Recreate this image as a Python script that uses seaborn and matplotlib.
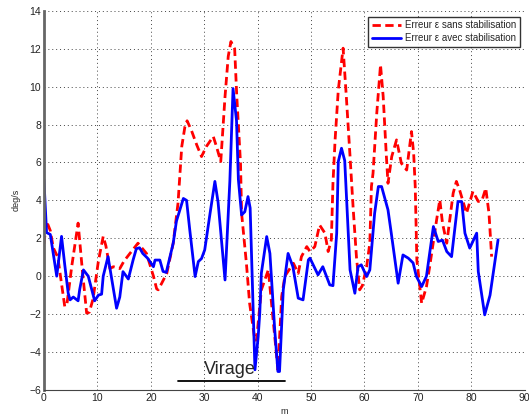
import matplotlib
matplotlib.use("Agg")
import matplotlib.pyplot as plt
import seaborn as sns

# distance (m) / angular error (deg/s)
blue_m = [0, 0.5, 1.2, 2.4, 3.3, 3.9, 4.55, 4.9, 5.5, 6.4, 6.7, 7.4, 8.3, 9.5,
          10.2, 10.8, 11.1, 12.0, 13.6, 14.2, 14.8, 15.8, 16.7, 17.3, 17.9, 18.5,
          19.4, 20.5, 20.8, 21.7, 22.3, 22.9, 24.2, 24.8, 26.1, 26.7, 27.3, 28.3,
          28.9, 29.5, 30.1, 31.1, 32.0, 32.6, 33.9, 34.8, 35.4, 36.05, 36.4, 37.0,
          37.6, 38.2, 38.6, 39.5, 40.1, 40.4, 40.7, 41.7, 42.3, 43.2, 43.8, 44.1,
          44.8, 45.7, 46.6, 47.6, 48.5, 49.5, 49.8, 51.3, 52.2, 53.5, 54.1, 54.8,
          55.1, 55.7, 56.3, 57.3, 58.2, 58.8, 59.4, 60.4, 61.0, 61.9, 62.6, 63.2,
          64.4, 65.0, 66.3, 67.2, 68.2, 69.1, 69.7, 70.7, 71.6, 72.9, 73.8, 74.6,
          75.4, 76.3, 77.5, 78.2, 78.8, 79.7, 81.0, 81.3, 82.5, 83.5, 85.0]
blue_err = [5.1, 2.3, 2.2, 0.0, 2.1, 0.6, -0.9, -1.25, -1.1, -1.3, -0.7, 0.33, 0.0, -1.3,
            -1.0, -0.95, 0.0, 1.03, -1.69, -1.1, 0.24, -0.15, 0.86, 1.45, 1.5, 1.2,
            0.95, 0.5, 0.85, 0.85, 0.25, 0.2, 1.74, 2.9, 4.1, 4.0, 2.44, -0.02,
            0.77, 0.93, 1.39, 3.32, 5.0, 3.9, -0.2, 5.0, 9.9, 8.2, 5.1, 3.23,
            3.4, 4.2, 3.6, -4.94, -3.2, -1.95, 0.16, 2.09, 1.2, -2.83, -5.03, -5.03,
            -0.72, 1.2, 0.5, -1.16, -1.25, 0.86, 0.95, 0.07, 0.5, -0.46, -0.5, 2.27,
            6.05, 6.75, 6.1, 0.33, -0.9, 0.5, 0.6, -0.02, 0.33, 3.32, 4.73, 4.73,
            3.5, 2.3, -0.37, 1.12, 0.95, 0.7, 0.0, -0.55, 0.0, 2.62, 1.83, 1.9,
            1.3, 1.03, 3.94, 3.94, 2.27, 1.48, 2.27, 0.24, -2.04, -1.0, 1.92]

red_m = [0, 0.5, 1.2, 1.75, 2.6, 3.2, 3.9, 4.3, 5.2, 6.4, 7.2, 8.0, 8.5, 9.2,
         10.2, 11.1, 11.6, 12.35, 13.0, 14.2, 15.0, 16.1, 17.6, 19.2, 20.5, 21.1,
         21.4, 22.0, 23.0, 24.2, 25.1, 25.8, 26.4, 26.8, 27.6, 28.6, 29.5, 30.4,
         31.7, 32.3, 33.1, 33.9, 34.5, 35.0, 35.7, 36.1, 36.8, 37.0, 37.9, 38.5,
         39.5, 39.8, 40.7, 42.0, 42.9, 43.8, 44.5, 45.1, 46.7, 47.6, 48.2, 49.2,
         49.8, 50.7, 51.6, 52.6, 53.2, 53.8, 54.1, 54.5, 55.1, 56.0, 56.6, 57.3,
         57.9, 58.5, 59.1, 59.6, 60.4, 61.0, 61.3, 61.6, 62.3, 63.0, 63.5, 64.1,
         64.4, 65.1, 66.0, 66.9, 67.9, 68.8, 69.2, 69.5, 69.8, 70.7, 71.6, 72.2,
         73.5, 74.1, 74.6, 75.4, 76.6, 77.2, 77.8, 79.1, 80.3, 81.3, 82.0, 82.7,
         83.3, 83.8]
red_err = [1.7, 2.9, 2.4, 1.5, 1.0, -0.2, -1.6, -1.5, 0.5, 2.8, 0.3, -1.95, -1.9, -1.2,
           0.8, 2.1, 1.6, 0.4, 0.5, 0.4, 0.8, 1.2, 1.74, 1.2, 0.0, -0.67,
           -0.72, -0.4, 0.15, 1.74, 3.85, 6.84, 7.9, 8.2, 7.7, 6.93, 6.31, 6.84,
           7.37, 6.84, 6.05, 9.48, 11.6, 12.38, 12.0, 9.48, 5.95, 3.32, 0.68, -1.43,
           -3.4, -3.36, -0.72, 0.33, -2.3, -4.94, -1.08, 0.0, 0.68, 0.15, 1.03, 1.56,
           1.3, 1.56, 2.7, 2.27, 1.3, 1.92, 4.9, 7.19, 9.83, 12.03, 9.48, 6.31,
           3.5, 1.0, -0.72, -0.5, 0.5, 1.74, 4.73, 5.43, 8.6, 11.15, 9.48, 6.31,
           4.9, 6.31, 7.19, 5.96, 5.6, 7.63, 6.5, 4.73, 0.86, -1.43, -0.55, 0.5,
           2.97, 4.03, 2.8, 1.74, 4.38, 5.0, 4.55, 3.32, 4.47, 3.94, 4.0, 4.64,
           3.32, 1.03]

labels = ["Erreur \u03b5 sans stabilisation", "Erreur \u03b5 avec stabilisation"]
virage_start, virage_end = 25.1, 45.1

sns.set_style("white")
plt.rcParams["font.family"] = ["Liberation Sans", "DejaVu Sans"]

fig = plt.figure(figsize=(5.29, 4.17), dpi=100)
ax = fig.add_axes([0.083, 0.065, 0.909, 0.909])

sns.lineplot(x=red_m, y=red_err, ax=ax, sort=False, estimator=None,
             color="#ff0000", lw=2.0, dashes=False, label=labels[0])
sns.lineplot(x=blue_m, y=blue_err, ax=ax, sort=False, estimator=None,
             color="#0000ff", lw=2.0, label=labels[1])
ax.lines[0].set_dashes((3, 1.6))

# "Virage" marker under the curves
ax.plot([virage_start, virage_end], [-5.53, -5.53], color="black", lw=1.3)
ax.text((virage_start + virage_end) / 2 - 0.3, -5.35, "Virage", ha="center",
        va="bottom", fontsize=13)

ax.set_xlim(0, 90)
ax.set_ylim(-6, 14)
ax.set_xticks(range(0, 91, 10))
ax.set_yticks(range(-6, 15, 2))
ax.grid(True, linestyle=(0, (1, 3)), color="#444444", lw=0.7)
ax.tick_params(direction="in", length=3, labelsize=7.5, colors="#222222", pad=2)
for side in ["top", "right"]:
    ax.spines[side].set_visible(False)
ax.spines["left"].set_color("#666666")
ax.spines["left"].set_linewidth(2)
ax.spines["bottom"].set_color("#444444")
ax.set_xlabel("m", fontsize=6.5, labelpad=3)
ax.set_ylabel("deg/s", fontsize=6.5, labelpad=6)

leg = ax.legend(loc="upper right", bbox_to_anchor=(0.99, 0.985), borderaxespad=0,
                fontsize=7, handlelength=3, frameon=True, fancybox=False,
                borderpad=0.4, labelspacing=0.3, handletextpad=0.4)
leg.get_frame().set_edgecolor("black")
leg.get_frame().set_linewidth(1)
leg.get_lines()[0].set_dashes((3, 1.6))

fig.savefig("out.png", dpi=100)
